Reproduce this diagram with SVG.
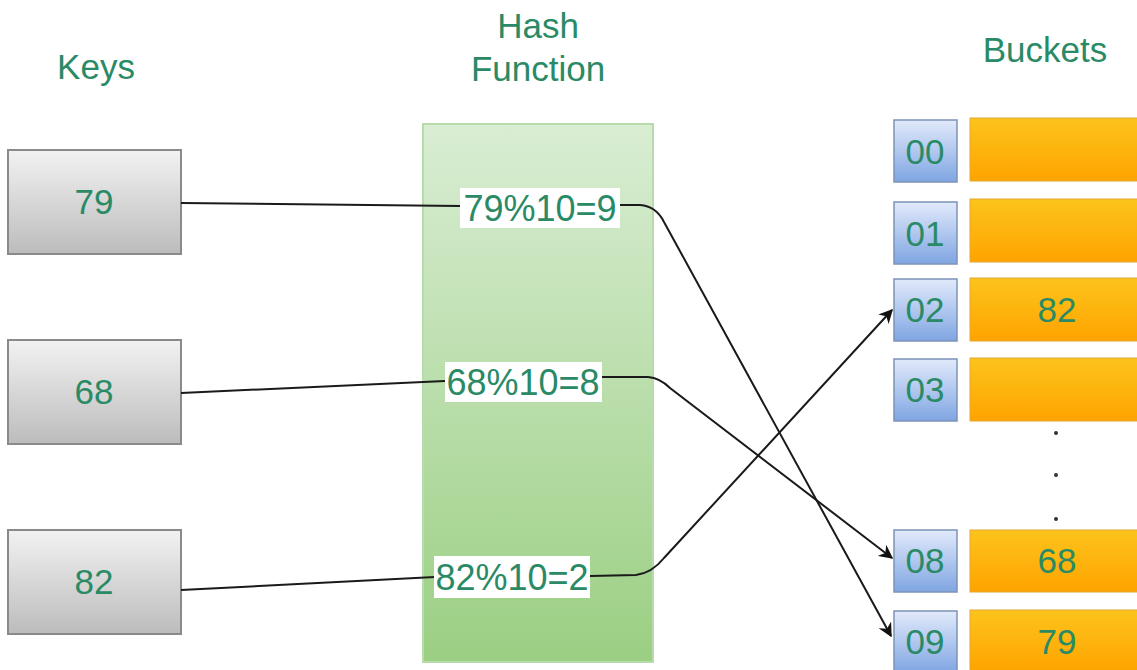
<svg xmlns="http://www.w3.org/2000/svg" width="1137" height="670" viewBox="0 0 1137 670">
<defs>
<linearGradient id="gKey" x1="0" y1="0" x2="0" y2="1"><stop offset="0" stop-color="#f2f2f2"/><stop offset="1" stop-color="#bcbcbc"/></linearGradient>
<linearGradient id="gHash" x1="0" y1="0" x2="0" y2="1"><stop offset="0" stop-color="#d9edd3"/><stop offset="1" stop-color="#9bcf83"/></linearGradient>
<linearGradient id="gIdx" x1="0" y1="0" x2="0" y2="1"><stop offset="0" stop-color="#e2eafb"/><stop offset="1" stop-color="#7fa5e2"/></linearGradient>
<linearGradient id="gBkt" x1="0" y1="0" x2="0" y2="1"><stop offset="0" stop-color="#fcc41c"/><stop offset="1" stop-color="#ffa300"/></linearGradient>
<marker id="arr" viewBox="0 0 10 10" refX="9" refY="5" markerWidth="14" markerHeight="14" markerUnits="userSpaceOnUse" orient="auto"><path d="M0,0 L10,5 L0,10 L3,5 Z" fill="#111"/></marker>
</defs>
<style>
text{font-family:"Liberation Sans",Arial,sans-serif;fill:#2a8a66;text-anchor:middle}
.t{font-size:35px}
.lbl{font-size:36px}
.key{fill:url(#gKey);stroke:#8a8a8a;stroke-width:2}
.idx{fill:url(#gIdx);stroke:#7c93b8;stroke-width:1.5}
.bkt{fill:url(#gBkt);stroke:#e0a830;stroke-width:1}
.edge{fill:none;stroke:#1a1a1a;stroke-width:2}
.lblbg{fill:#ffffff}
</style>
<rect width="1137" height="670" fill="#ffffff"/>

<g id="titles">
<text class="t" x="96" y="79">Keys</text>
<text class="t" x="538" y="38">Hash</text>
<text class="t" x="538" y="81">Function</text>
<text class="t" x="1045" y="62">Buckets</text>
</g>

<g id="hash-function"><rect x="423" y="124" width="230" height="538" fill="url(#gHash)" stroke="#b7dbab" stroke-width="2"/></g>

<g id="key-79"><rect class="key" x="8" y="150" width="173" height="104"/><text class="t" x="94" y="214">79</text></g>
<g id="key-68"><rect class="key" x="8" y="340" width="173" height="104"/><text class="t" x="94" y="404">68</text></g>
<g id="key-82"><rect class="key" x="8" y="530" width="173" height="104"/><text class="t" x="94" y="594">82</text></g>

<g id="connectors">
<path class="edge" d="M181,203 L460,206"/>
<path class="edge" d="M620,205 L640,205 Q656,206 664,222 L891,636" marker-end="url(#arr)"/>
<path class="edge" d="M181,393 L445,381"/>
<path class="edge" d="M602,377 L648,377 Q660,378 670,388 L892,558" marker-end="url(#arr)"/>
<path class="edge" d="M181,590 L435,577"/>
<path class="edge" d="M590,576 L636,575 Q652,573 664,558 L892,310" marker-end="url(#arr)"/>
</g>

<g id="label-79"><rect class="lblbg" x="460" y="188" width="160" height="40"/><text class="lbl" x="540" y="221">79%10=9</text></g>
<g id="label-68"><rect class="lblbg" x="445" y="362" width="157" height="40"/><text class="lbl" x="523" y="395">68%10=8</text></g>
<g id="label-82"><rect class="lblbg" x="434" y="556" width="156" height="42"/><text class="lbl" x="512" y="590">82%10=2</text></g>

<g id="bucket-00"><rect class="idx" x="894" y="120" width="63" height="62"/><text class="t" x="925" y="164">00</text><rect class="bkt" x="970" y="118" width="180" height="63"/></g>
<g id="bucket-01"><rect class="idx" x="894" y="202" width="63" height="62"/><text class="t" x="925" y="246">01</text><rect class="bkt" x="970" y="199" width="180" height="63"/></g>
<g id="bucket-02"><rect class="idx" x="894" y="279" width="63" height="62"/><text class="t" x="925" y="322">02</text><rect class="bkt" x="970" y="278" width="180" height="63"/><text class="t" x="1057" y="322">82</text></g>
<g id="bucket-03"><rect class="idx" x="894" y="359" width="63" height="62"/><text class="t" x="925" y="402">03</text><rect class="bkt" x="970" y="358" width="180" height="63"/></g>
<g id="dots" fill="#333"><circle cx="1056" cy="433" r="2"/><circle cx="1056" cy="475" r="2"/><circle cx="1056" cy="519" r="2"/></g>
<g id="bucket-08"><rect class="idx" x="894" y="530" width="63" height="62"/><text class="t" x="925" y="573">08</text><rect class="bkt" x="970" y="530" width="180" height="62"/><text class="t" x="1057" y="573">68</text></g>
<g id="bucket-09"><rect class="idx" x="894" y="611" width="63" height="62"/><text class="t" x="925" y="654">09</text><rect class="bkt" x="970" y="610" width="180" height="62"/><text class="t" x="1057" y="654">79</text></g>
</svg>
